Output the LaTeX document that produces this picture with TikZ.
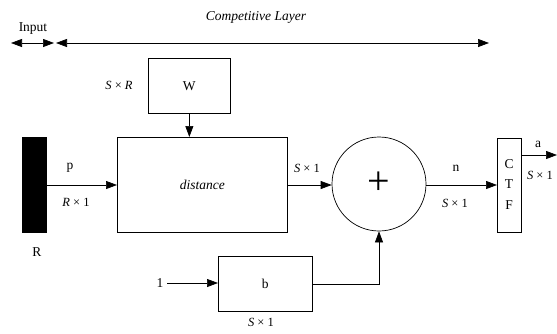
\documentclass[tikz,border=0pt]{standalone}
\usepackage{fontspec}
\setmainfont{Liberation Serif}
\usetikzlibrary{arrows.meta}
\begin{document}
\begin{tikzpicture}[x=1pt,y=-1pt,line width=0.7pt,
  box/.style={draw,inner sep=0pt,anchor=north west},
  tip/.tip={Triangle[length=11pt,width=8pt]},
  arr/.style={-tip},
  lbl/.style={font=\fontsize{12.5}{14}\selectfont,inner sep=0pt},
  every node/.style={font=\fontsize{13.5}{15}\selectfont}]
\useasboundingbox (0,0) rectangle (557,333);
% top
\coordinate (i1) at (11,43);
\coordinate (i2) at (54,43);
\coordinate (c1) at (56,43);
\coordinate (c2) at (489,43);
\draw[tip-tip] (i1) -- (i2);
\draw[tip-tip] (c1) -- (c2);
\node[inner sep=0pt] (inp) at (33,29) {Input};
\node[inner sep=0pt] (comp) at (256,17) {\textit{Competitive Layer}};
% boxes
\node[box,fill=black,minimum width=24pt,minimum height=95pt] (R) at (22,137) {};
\node (Rl) at (37,252) {R};
\node[box,minimum width=82pt,minimum height=55pt] (W) at (148,58) {};
\node (Wl) at (W.center) {W};
\node[lbl] (SR) at (119,85) {\textit{S} × \textit{R}};
\node[box,minimum width=170pt,minimum height=95pt] (D) at (117,137) {};
\node (Dl) at (D.center) {\textit{distance}};
\node[draw,circle,minimum size=94pt,inner sep=0pt] (sum) at (379,184) {};
\node[font=\fontsize{40}{40}\selectfont,inner sep=0pt] (plus) at (379,183) {+};
\node[box,minimum width=24pt,minimum height=94pt] (C) at (497,138) {};
\node (Cc) at (509,164) {C};
\node (Ct) at (509,184) {T};
\node (Cf) at (509,205) {F};
\node[box,minimum width=94pt,minimum height=55pt] (B) at (218,256) {};
\node (Bl) at (B.center) {b};
\node (one) at (160,283) {1};
\node[lbl] (S1b) at (261,322) {\textit{S} × 1};
% connectors
\draw[arr] (R.east |- 0,185) -- (D.west |- 0,185);
\node (p) at (70,168) {p};
\node[lbl] (R1) at (76,202) {\textit{R} × 1};
\draw[arr] (W.south) -- (D.north -| W.south);
\draw[arr] (D.east |- 0,185) -- (sum.west |- 0,185);
\node[lbl] (S1a) at (307,168) {\textit{S} × 1};
\draw[arr] (sum.east |- 0,185) -- (C.west |- 0,185);
\node (n) at (456,168) {n};
\node[lbl] (S1n) at (455,203) {\textit{S} × 1};
\coordinate (out) at (557,155);
\draw[arr] (C.east |- out) -- (out);
\node (a) at (538,144) {a};
\node[lbl] (S1o) at (540,175) {\textit{S} × 1};
\draw[arr] (one.east) -- (B.west |- one.east);
\draw[arr] (B.east) -| (sum.south);
\end{tikzpicture}
\end{document}
